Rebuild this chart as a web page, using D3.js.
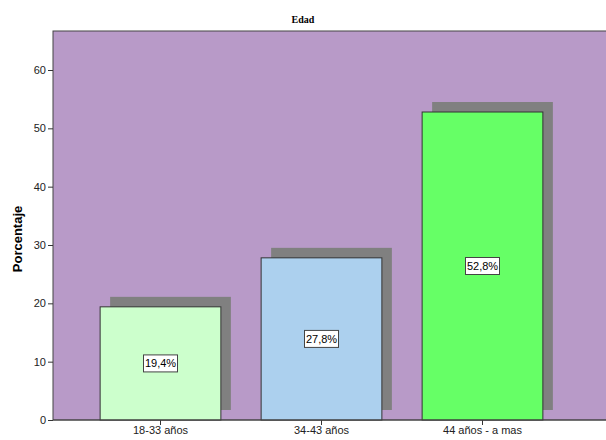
<!DOCTYPE html>
<html>
<head>
<meta charset="utf-8">
<script src="https://cdn.jsdelivr.net/npm/d3@7"></script>
<style>
  html, body { margin: 0; padding: 0; background: #fff; }
  svg { display: block; }
</style>
</head>
<body>
<svg id="chart" width="606" height="440"></svg>
<script>
const categories = ["18-33 años", "34-43 años", "44 años - a mas"];
const values = [19.4, 27.8, 52.8];
const valueLabels = ["19,4%", "27,8%", "52,8%"];
const barColors = ["#ccffcc", "#acd0ee", "#66ff66"];
const yTicks = [0, 10, 20, 30, 40, 50, 60];
const title = "Edad";
const yTitle = "Porcentaje";

const svg = d3.select("#chart");
const plotLeft = 53, plotTop = 31, plotRight = 610, plotBottom = 420;

const y = d3.scaleLinear().domain([0, 60]).range([plotBottom, 70]);
const x = d3.scaleBand().domain(categories).range([80, 563])
  .paddingInner(0.25).paddingOuter(0.125);

// plot background
svg.append("rect")
  .attr("x", plotLeft).attr("y", plotTop)
  .attr("width", plotRight - plotLeft).attr("height", plotBottom - plotTop)
  .attr("fill", "#b89ac8")
  .attr("stroke", "#444").attr("stroke-width", 1);

// title
svg.append("text")
  .attr("x", 303).attr("y", 23)
  .attr("text-anchor", "middle")
  .attr("font-family", "Liberation Serif, Times New Roman, serif")
  .attr("font-weight", "bold").attr("font-size", 10)
  .text(title);

const shadowOff = 10;
// shadows
svg.selectAll("rect.shadow").data(values).enter().append("rect")
  .attr("class", "shadow")
  .attr("x", (d, i) => x(categories[i]) + shadowOff)
  .attr("y", d => y(d) - shadowOff)
  .attr("width", x.bandwidth())
  .attr("height", d => y(0) - y(d))
  .attr("fill", "#808080");

// bars
svg.selectAll("rect.bar").data(values).enter().append("rect")
  .attr("class", "bar")
  .attr("x", (d, i) => x(categories[i]))
  .attr("y", d => y(d))
  .attr("width", x.bandwidth())
  .attr("height", d => y(0) - y(d))
  .attr("fill", (d, i) => barColors[i])
  .attr("stroke", "#333").attr("stroke-width", 1);

// value labels
const lab = svg.selectAll("g.lab").data(values).enter().append("g")
  .attr("class", "lab")
  .attr("transform", (d, i) => `translate(${x(categories[i]) + x.bandwidth() / 2},${y(d / 2)})`);
lab.append("rect")
  .attr("x", -17).attr("y", -8.5).attr("width", 34).attr("height", 17)
  .attr("fill", "#fff").attr("stroke", "#444").attr("stroke-width", 1);
lab.append("text")
  .attr("text-anchor", "middle").attr("dy", "0.36em")
  .attr("font-family", "Liberation Sans, Arial, sans-serif").attr("font-size", 11)
  .attr("fill", "#000")
  .text((d, i) => valueLabels[i]);

// y axis
const yAxis = svg.append("g")
  .attr("transform", `translate(${plotLeft},0)`)
  .call(d3.axisLeft(y).tickValues(yTicks).tickSize(5).tickPadding(2).tickFormat(d3.format("d")));
yAxis.select(".domain").remove();
yAxis.selectAll("line").attr("stroke", "#333");
yAxis.selectAll("text").attr("font-family", "Liberation Sans, Arial, sans-serif")
  .attr("font-size", 11).attr("fill", "#222");

// x axis
const xAxis = svg.append("g")
  .attr("transform", `translate(0,${plotBottom})`)
  .call(d3.axisBottom(x).tickSize(5).tickPadding(1));
xAxis.select(".domain").remove();
xAxis.selectAll("line").attr("stroke", "#333");
xAxis.selectAll("text").attr("font-family", "Liberation Sans, Arial, sans-serif")
  .attr("font-size", 11).attr("fill", "#222");

// baseline
svg.append("line")
  .attr("x1", plotLeft).attr("x2", plotRight)
  .attr("y1", plotBottom).attr("y2", plotBottom)
  .attr("stroke", "#444").attr("stroke-width", 1.2);

// y title
svg.append("text")
  .attr("transform", "translate(22,239) rotate(-90)")
  .attr("text-anchor", "middle")
  .attr("font-family", "Liberation Sans, Arial, sans-serif")
  .attr("font-weight", "bold").attr("font-size", 13)
  .text(yTitle);
</script>
</body>
</html>
